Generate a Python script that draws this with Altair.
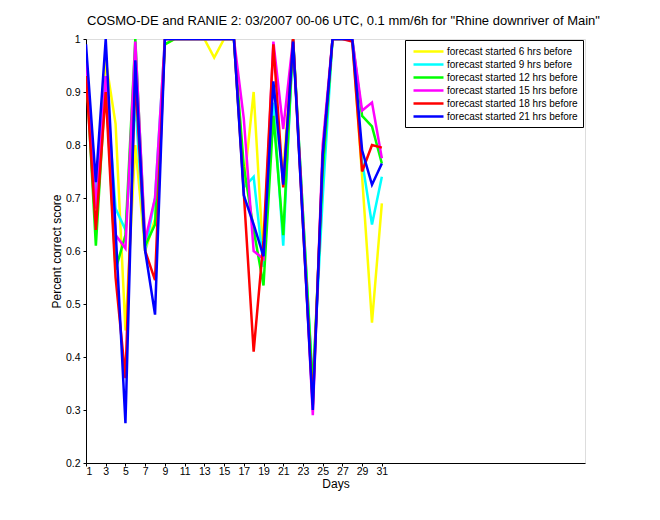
import altair as alt
import pandas as pd

days = list(range(1, 32))

series_names = [
    "forecast started 6 hrs before",
    "forecast started 9 hrs before",
    "forecast started 12 hrs before",
    "forecast started 15 hrs before",
    "forecast started 18 hrs before",
    "forecast started 21 hrs before",
]
series_colors = ["#ffff00", "#00ffff", "#00ff00", "#ff00ff", "#ff0000", "#0000ff"]

h06 = [0.93, 0.70, 0.96, 0.84, 0.45, 0.80, 0.60, 0.66, 0.99, 1.00, 1.00, 1.00, 1.00, 0.965, 1.00, 1.00,
       0.72, 0.90, 0.58, 0.87, 0.75, 1.00, 0.66, 0.33, 0.76, 1.00, 1.00, 1.00, 0.74, 0.465, 0.69]
h09 = [0.95, 0.70, 0.93, 0.68, 0.64, 0.88, 0.60, 0.70, 1.00, 1.00, 1.00, 1.00, 1.00, 1.00, 1.00, 1.00,
       0.72, 0.74, 0.57, 0.88, 0.61, 1.00, 0.67, 0.35, 0.70, 1.00, 1.00, 1.00, 0.77, 0.65, 0.74]
h12 = [0.95, 0.61, 0.92, 0.565, 0.63, 1.00, 0.61, 0.65, 0.99, 1.00, 1.00, 1.00, 1.00, 1.00, 1.00, 1.00,
       0.76, 0.64, 0.535, 0.855, 0.63, 1.00, 0.67, 0.34, 0.75, 1.00, 1.00, 1.00, 0.855, 0.835, 0.765]
h15 = [0.96, 0.68, 0.93, 0.63, 0.605, 0.995, 0.62, 0.70, 1.00, 1.00, 1.00, 1.00, 1.00, 1.00, 1.00, 1.00,
       0.85, 0.60, 0.585, 0.995, 0.83, 1.00, 0.66, 0.29, 0.80, 1.00, 1.00, 1.00, 0.865, 0.88, 0.775]
h18 = [0.93, 0.64, 0.90, 0.55, 0.36, 0.93, 0.60, 0.545, 1.00, 1.00, 1.00, 1.00, 1.00, 1.00, 1.00, 1.00,
       0.71, 0.41, 0.62, 0.99, 0.72, 1.00, 0.65, 0.31, 0.78, 1.00, 1.00, 0.995, 0.75, 0.80, 0.795]
h21 = [0.99, 0.73, 1.00, 0.64, 0.275, 0.96, 0.60, 0.48, 1.00, 1.00, 1.00, 1.00, 1.00, 1.00, 1.00, 1.00,
       0.705, 0.65, 0.59, 0.92, 0.725, 0.995, 0.65, 0.30, 0.78, 1.00, 1.00, 1.00, 0.79, 0.725, 0.765]

x_ticks = list(range(1, 32, 2))
y_ticks = [0.2, 0.3, 0.4, 0.5, 0.6, 0.7, 0.8, 0.9, 1.0]

rows = []
for i, (name, vals) in enumerate(zip(series_names, [h06, h09, h12, h15, h18, h21])):
    for d, v in zip(days, vals):
        rows.append({"day": d, "score": v, "series": name, "idx": i})
df = pd.DataFrame(rows)

FONT = "Liberation Sans"

chart = alt.Chart(df).mark_line(strokeWidth=2.5, clip=True).encode(
    x=alt.X("day:Q",
            scale=alt.Scale(domain=[1, 51.6], nice=False, zero=False),
            axis=alt.Axis(values=x_ticks, title="Days", grid=False, tickSize=3,
                          labelFontSize=10.5, titleFontSize=12, titleFontWeight="normal",
                          labelColor="black", titleColor="black", domainColor="black",
                          tickColor="black", titlePadding=2, labelPadding=0,
                          labelFont=FONT, titleFont=FONT)),
    y=alt.Y("score:Q",
            scale=alt.Scale(domain=[0.2, 1.0], nice=False, zero=False),
            axis=alt.Axis(values=y_ticks, format=".1~f", title="Percent correct score",
                          grid=False, tickSize=3, labelFontSize=10.5, titleFontSize=12,
                          titleFontWeight="normal", labelColor="black", titleColor="black",
                          domainColor="black", tickColor="black", titlePadding=2,
                          labelPadding=3, labelFont=FONT, titleFont=FONT)),
    color=alt.Color("series:N",
                    scale=alt.Scale(domain=series_names, range=series_colors),
                    sort=series_names,
                    legend=alt.Legend(title=None, orient="none", legendX=319, legendY=1,
                                      symbolType="M-3,0H3", symbolSize=100,
                                      symbolStrokeWidth=2.5, symbolOffset=12,
                                      labelOffset=12, labelFontSize=10, labelFont=FONT,
                                      labelColor="black", rowPadding=1, padding=5,
                                      strokeColor="black", fillColor="white",
                                      labelLimit=300)),
    detail="idx:O",
).properties(
    width=499,
    height=424,
    title=alt.TitleParams(
        'COSMO-DE and RANIE 2: 03/2007 00-06 UTC, 0.1 mm/6h for "Rhine downriver of Main"',
        fontSize=13, fontWeight="normal", font=FONT, color="black", anchor="middle",
        offset=6, dx=8),
    autosize=alt.AutoSizeParams(type="none"),
    padding={"left": 86, "top": 39, "right": 75, "bottom": 57},
).configure_view(
    stroke="black", strokeWidth=1
).configure(background="white")

chart.save("out.html", embed_options={"renderer": "svg", "actions": False})
